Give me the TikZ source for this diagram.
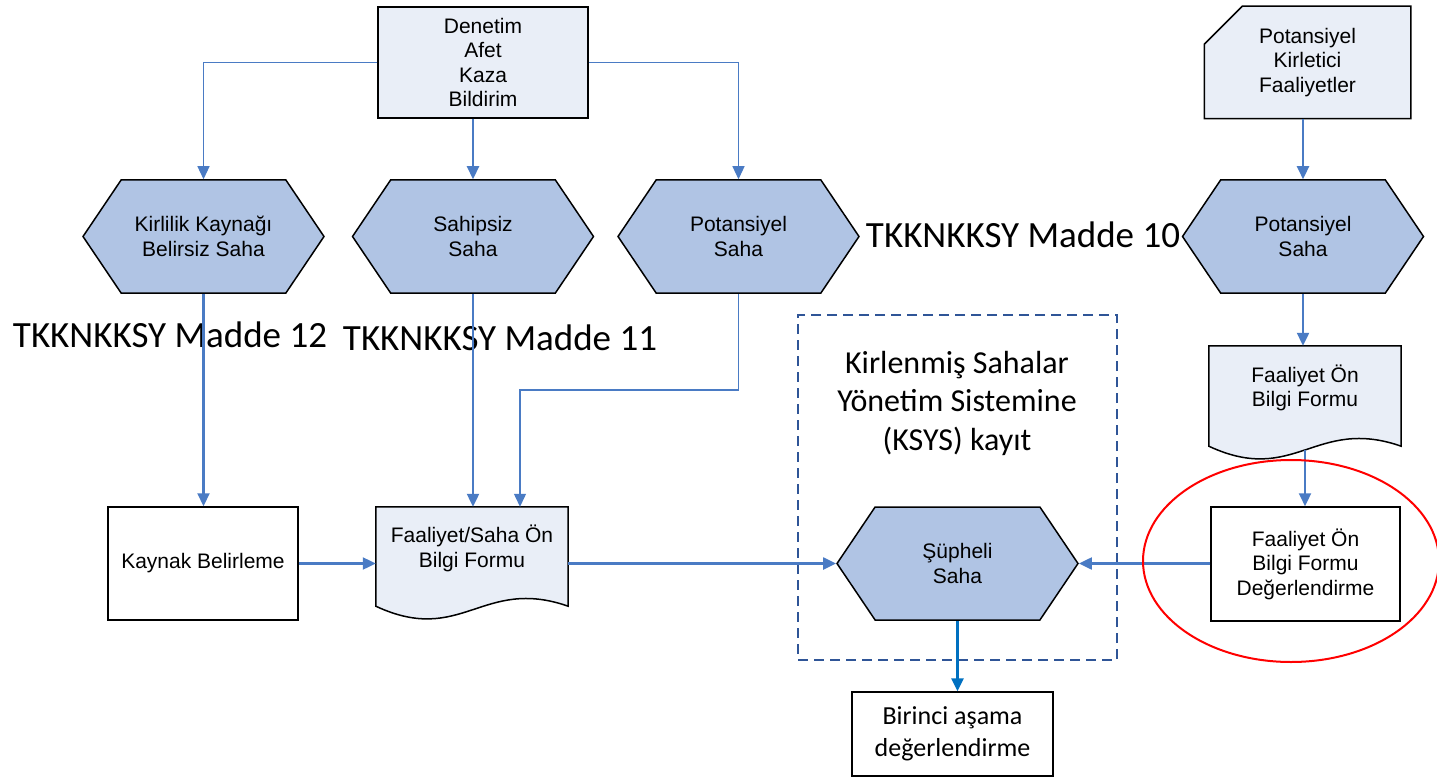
\documentclass[tikz,border=0pt]{standalone}
\usepackage{fontspec}
\setmainfont{Liberation Sans}
\newfontfamily\calibfont{Carlito}
\usetikzlibrary{arrows.meta,shapes.symbols,backgrounds}
\definecolor{formfill}{HTML}{E9EEF7}
\definecolor{hexfill}{HTML}{B0C4E4}
\definecolor{flowblue}{HTML}{4A7BC4}
\definecolor{dashblue}{HTML}{2F5597}
\definecolor{downblue}{HTML}{0070C0}
\tikzset{
	box/.style={draw=black, line width=1.5pt, align=center, inner sep=0pt, font=\fontsize{21}{24.5}\selectfont},
	hexbox/.style={box, signal, signal to=east and west, signal pointer angle=112, fill=hexfill, minimum width=241pt, minimum height=113pt},
	formbox/.style={align=center, inner sep=0pt, minimum width=192pt, font=\fontsize{21}{24.5}\selectfont},
	conn/.style={flowblue, line width=2.2pt, -{Triangle[length=13pt,width=12pt]}},
	thinconn/.style={conn, line width=1.2pt},
	madde/.style={anchor=base, inner sep=0pt, font=\calibfont\fontsize{37}{44}\selectfont},
}
% document shape with wavy bottom, drawn behind the node
\newcommand{\formback}[1]{%
	\filldraw[fill=formfill, draw=black, line width=1.5pt] (#1.north west) -- (#1.north east) -- ([yshift=-16pt]#1.south east)
	.. controls ([xshift=-86pt,yshift=14pt]#1.south east) and ([xshift=86pt,yshift=-56pt]#1.south west) .. ([yshift=-16pt]#1.south west) -- cycle;}
\begin{document}
\begin{tikzpicture}[x=1pt,y=-1pt]
		\useasboundingbox (0,0) rectangle (1437,778);
		% law references (behind the shapes)
		\node[madde] (m12) at (170,347) {TKKNKKSY Madde 12};
		\node[madde] (m11) at (500,350) {TKKNKKSY Madde 11};
		\node[madde] (m10) at (1023,247) {TKKNKKSY Madde 10};
		% sources
		\node[box, fill=formfill, minimum width=210pt, minimum height=111pt] (denetim) at (483,62.5) {Denetim\\Afet\\Kaza\\Bildirim};
		\node[box, draw=none, minimum width=205pt, minimum height=111pt] (pkf) at (1307.5,62.5) {Potansiyel\\Kirletici\\Faaliyetler};
		% site types
		\node[hexbox] (belirsiz) at (203.5,236.5) {Kirlilik Kaynağı\\Belirsiz Saha};
		\node[hexbox] (sahipsiz) at (473,236.5) {Sahipsiz\\Saha};
		\node[hexbox] (potsaha) at (738.5,236.5) {Potansiyel\\Saha};
		\node[hexbox] (potsahaB) at (1303,236.5) {Potansiyel\\Saha};
		% KSYS region
		\node[draw=dashblue, line width=1.8pt, dash pattern=on 10pt off 6pt, minimum width=319pt, minimum height=345pt] (ksys) at (957.5,487.5) {};
		\node[align=center, font=\calibfont\fontsize{32}{38.5}\selectfont] (ksystext) at (957,403) {Kirlenmiş Sahalar\\Yönetim Sistemine\\(KSYS) kayıt};
		\node[hexbox] (supheli) at (957.5,563.5) {Şüpheli\\Saha};
		% boxes and forms
		\node[box, minimum width=190pt, minimum height=113pt] (kaynak) at (203,563.5) {Kaynak Belirleme};
		\node[box, minimum width=189pt, minimum height=114pt] (degerl) at (1305.5,564) {Faaliyet Ön\\Bilgi Formu\\Değerlendirme};
		\node[box, font=\calibfont\fontsize{26}{32}\selectfont, minimum width=201pt, minimum height=84pt] (birinci) at (952.5,734) {Birinci aşama\\değerlendirme};
		\node[formbox, minimum height=83pt] (formA) at (472,548.5) {Faaliyet/Saha Ön\\Bilgi Formu};
		\node[formbox, minimum height=84pt] (formB) at (1305,388) {Faaliyet Ön\\Bilgi Formu};
		\begin{scope}[on background layer]
			\formback{formA}
			\formback{formB}
			\filldraw[fill=formfill, draw=black, line width=1.5pt] ([xshift=38pt]pkf.north west) -- (pkf.north east) -- (pkf.south east) -- (pkf.south west) -- ([yshift=-38pt]pkf.north west) -- cycle;
		\end{scope}
		% connectors
		\coordinate (bend) at (520,390);
		\draw[thinconn] (denetim.west) -| (belirsiz.north);
		\draw[thinconn] (denetim.east) -| (potsaha.north);
		\draw[conn] (denetim.south -| sahipsiz.north) -- (sahipsiz.north);
		\draw[conn] (pkf.south -| potsahaB.north) -- (potsahaB.north);
		\draw[conn] (belirsiz.south) -- (belirsiz.south |- kaynak.north);
		\draw[conn] (sahipsiz.south) -- (sahipsiz.south |- formA.north);
		\draw[thinconn] (potsaha.south) |- (bend) -- (bend |- formA.north);
		\draw[conn] (kaynak.east) -- (kaynak.east -| formA.west);
		\draw[conn] (supheli.west -| formA.east) -- (supheli.west);
		\draw[conn] (potsahaB.south) -- (potsahaB.south |- formB.north);
		\draw[conn] ([yshift=-20pt]formB.south) -- (formB.south |- degerl.north);
		\draw[conn] (supheli.east -| degerl.west) -- (supheli.east);
		\draw[conn, downblue, line width=2.6pt] (supheli.south) -- (supheli.south |- birinci.north);
		% highlight
		\draw[red, line width=2pt] (1291,561) ellipse [x radius=148, y radius=101];
\end{tikzpicture}
\end{document}
